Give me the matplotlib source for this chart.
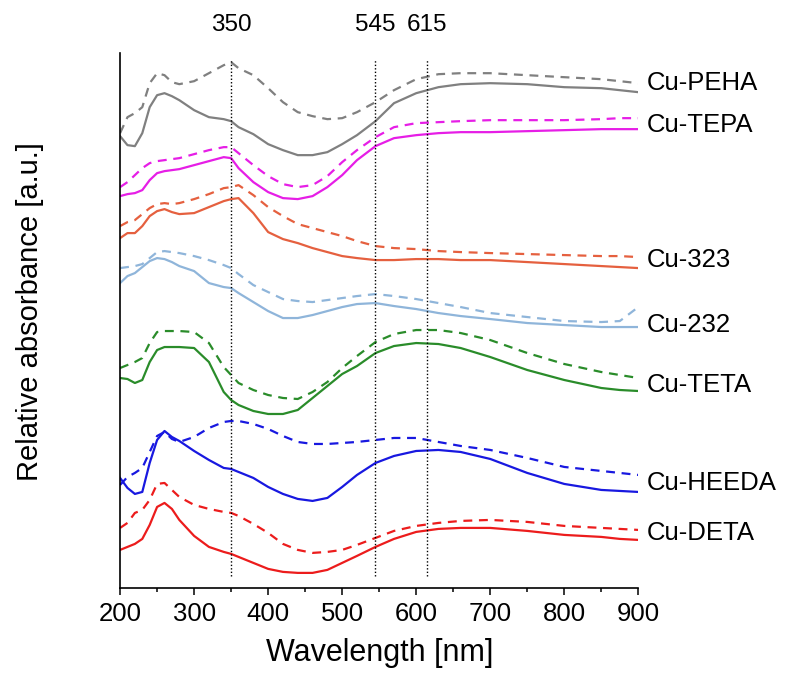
import matplotlib
matplotlib.use("Agg")
import matplotlib.pyplot as plt

plt.rcParams['font.family'] = ['Liberation Sans', 'DejaVu Sans']

# wavelength grid (nm)
wavelength = [200, 210, 220, 230, 240, 250, 260, 270, 280, 300, 320, 340, 350, 360,
              380, 400, 420, 440, 460, 480, 500, 520, 545, 570, 600, 630, 660, 700,
              750, 800, 850, 875, 900]

# relative absorbance (stacked, arbitrary units); "_dash" = dashed trace
peha = [4.52, 4.43, 4.42, 4.55, 4.81, 4.93, 4.95, 4.92, 4.88, 4.78, 4.71, 4.69, 4.67, 4.61,
        4.54, 4.44, 4.38, 4.33, 4.33, 4.36, 4.44, 4.53, 4.67, 4.85, 4.95, 5.01, 5.04, 5.05,
        5.04, 5.01, 5.00, 4.98, 4.96]
peha_dash = [4.55, 4.71, 4.75, 4.81, 5.05, 5.15, 5.13, 5.06, 5.04, 5.07, 5.15, 5.23, 5.26, 5.20,
             5.13, 5.00, 4.86, 4.76, 4.72, 4.69, 4.70, 4.76, 4.86, 4.98, 5.09, 5.14, 5.15, 5.15,
             5.13, 5.11, 5.09, 5.07, 5.05]
tepa = [3.92, 3.94, 3.95, 3.98, 4.08, 4.15, 4.17, 4.18, 4.19, 4.23, 4.27, 4.31, 4.30, 4.20,
        4.06, 3.96, 3.90, 3.89, 3.92, 4.01, 4.13, 4.28, 4.42, 4.50, 4.53, 4.55, 4.56, 4.56,
        4.57, 4.58, 4.59, 4.59, 4.59]
tepa_dash = [4.01, 4.06, 4.13, 4.20, 4.25, 4.27, 4.28, 4.29, 4.30, 4.34, 4.38, 4.41, 4.41, 4.35,
             4.23, 4.12, 4.04, 4.01, 4.03, 4.12, 4.26, 4.38, 4.51, 4.61, 4.65, 4.66, 4.67, 4.68,
             4.68, 4.68, 4.69, 4.70, 4.70]
cu323 = [3.50, 3.55, 3.55, 3.62, 3.72, 3.77, 3.79, 3.76, 3.74, 3.75, 3.81, 3.87, 3.89, 3.90,
         3.75, 3.56, 3.49, 3.45, 3.40, 3.36, 3.32, 3.30, 3.28, 3.28, 3.29, 3.29, 3.28, 3.28,
         3.26, 3.24, 3.22, 3.21, 3.20]
cu323_dash = [3.62, 3.66, 3.68, 3.74, 3.80, 3.84, 3.85, 3.84, 3.85, 3.89, 3.94, 4.00, 4.01, 4.03,
              3.93, 3.81, 3.72, 3.64, 3.60, 3.56, 3.52, 3.47, 3.42, 3.40, 3.39, 3.37, 3.36, 3.35,
              3.34, 3.33, 3.32, 3.32, 3.31]
cu232 = [3.05, 3.12, 3.15, 3.21, 3.27, 3.30, 3.29, 3.26, 3.22, 3.17, 3.05, 3.01, 3.00, 2.95,
         2.86, 2.77, 2.70, 2.70, 2.73, 2.77, 2.81, 2.84, 2.85, 2.82, 2.79, 2.75, 2.72, 2.69,
         2.65, 2.63, 2.61, 2.61, 2.61]
cu232_dash = [3.20, 3.21, 3.22, 3.24, 3.30, 3.36, 3.37, 3.36, 3.35, 3.32, 3.28, 3.23, 3.20, 3.14,
              3.03, 2.96, 2.89, 2.87, 2.86, 2.88, 2.90, 2.92, 2.94, 2.92, 2.89, 2.85, 2.81, 2.75,
              2.71, 2.67, 2.66, 2.67, 2.81]
teta = [2.10, 2.09, 2.05, 2.08, 2.26, 2.38, 2.41, 2.41, 2.41, 2.40, 2.26, 1.96, 1.88, 1.83,
        1.77, 1.74, 1.74, 1.78, 1.90, 2.02, 2.14, 2.22, 2.35, 2.42, 2.45, 2.44, 2.40, 2.31,
        2.18, 2.08, 2.00, 1.98, 1.97]
teta_dash = [2.20, 2.23, 2.26, 2.30, 2.45, 2.56, 2.57, 2.57, 2.57, 2.56, 2.45, 2.21, 2.13, 2.05,
             1.98, 1.93, 1.90, 1.89, 1.96, 2.06, 2.20, 2.32, 2.46, 2.54, 2.58, 2.58, 2.55, 2.48,
             2.35, 2.24, 2.16, 2.13, 2.10]
heeda = [1.10, 1.00, 0.94, 0.96, 1.25, 1.48, 1.57, 1.51, 1.47, 1.37, 1.28, 1.20, 1.19, 1.16,
         1.10, 1.01, 0.94, 0.89, 0.87, 0.90, 1.01, 1.13, 1.25, 1.32, 1.37, 1.38, 1.36, 1.29,
         1.15, 1.04, 0.98, 0.97, 0.96]
heeda_dash = [1.03, 1.11, 1.15, 1.20, 1.36, 1.52, 1.56, 1.49, 1.46, 1.51, 1.60, 1.66, 1.67, 1.67,
              1.64, 1.59, 1.52, 1.46, 1.44, 1.44, 1.45, 1.46, 1.48, 1.50, 1.50, 1.46, 1.42, 1.38,
              1.30, 1.21, 1.17, 1.15, 1.13]
deta = [0.38, 0.41, 0.44, 0.49, 0.63, 0.81, 0.85, 0.79, 0.68, 0.52, 0.41, 0.36, 0.34, 0.31,
        0.25, 0.19, 0.16, 0.15, 0.15, 0.18, 0.25, 0.32, 0.41, 0.49, 0.56, 0.59, 0.60, 0.60,
        0.57, 0.53, 0.51, 0.49, 0.48]
deta_dash = [0.60, 0.65, 0.75, 0.78, 0.88, 1.04, 1.05, 0.98, 0.91, 0.83, 0.79, 0.76, 0.75, 0.72,
             0.64, 0.55, 0.44, 0.38, 0.35, 0.36, 0.38, 0.43, 0.50, 0.57, 0.62, 0.65, 0.67, 0.68,
             0.66, 0.62, 0.60, 0.59, 0.58]

names = ['Cu-PEHA', 'Cu-TEPA', 'Cu-323', 'Cu-232', 'Cu-TETA', 'Cu-HEEDA', 'Cu-DETA']
solid = [peha, tepa, cu323, cu232, teta, heeda, deta]
dashed = [peha_dash, tepa_dash, cu323_dash, cu232_dash, teta_dash, heeda_dash, deta_dash]
colors = ['#808080', '#E61EE6', '#E5603F', '#8FB5DA', '#2A8C2A', '#1818E0', '#EC1C1C']
label_y = [5.05, 4.63, 3.28, 2.63, 2.03, 1.05, 0.55]

marker_wl = [350, 545, 615]

fig = plt.figure(figsize=(7.9, 6.82), dpi=100)
ax = fig.add_axes([0.152, 0.138, 0.656, 0.784])

for ys, yd, c in zip(solid, dashed, colors):
    ax.plot(wavelength, ys, color=c, lw=1.6, solid_joinstyle='round')
    ax.plot(wavelength, yd, color=c, lw=1.6, dashes=(4, 3))

for wl in marker_wl:
    ax.plot([wl, wl], [0.12, 5.28], color='black', lw=1.0, linestyle=(0, (1, 1.5)))
    ax.text(wl, 5.63, str(wl), ha='center', va='center', fontsize=17.5, clip_on=False)

for name, y, c in zip(names, label_y, colors):
    ax.text(912, y, name, ha='left', va='center', fontsize=18.5, clip_on=False)

ax.set_xlim(200, 900)
ax.set_ylim(0, 5.35)
ax.set_xticks(range(200, 901, 100))
ax.set_xticks(range(250, 900, 100), minor=True)
ax.set_yticks([])
ax.tick_params(axis='x', which='major', length=5, width=1.1, labelsize=18.5, pad=5)
ax.tick_params(axis='x', which='minor', length=3, width=1.1)
for side in ['top', 'right']:
    ax.spines[side].set_visible(False)
for side in ['left', 'bottom']:
    ax.spines[side].set_linewidth(1.2)

ax.set_xlabel('Wavelength [nm]', fontsize=22, labelpad=9)
fig.text(30 / 790, 1 - 312 / 682, 'Relative absorbance [a.u.]', rotation=90,
         ha='center', va='center', fontsize=21)

fig.savefig('out.png', dpi=100)
